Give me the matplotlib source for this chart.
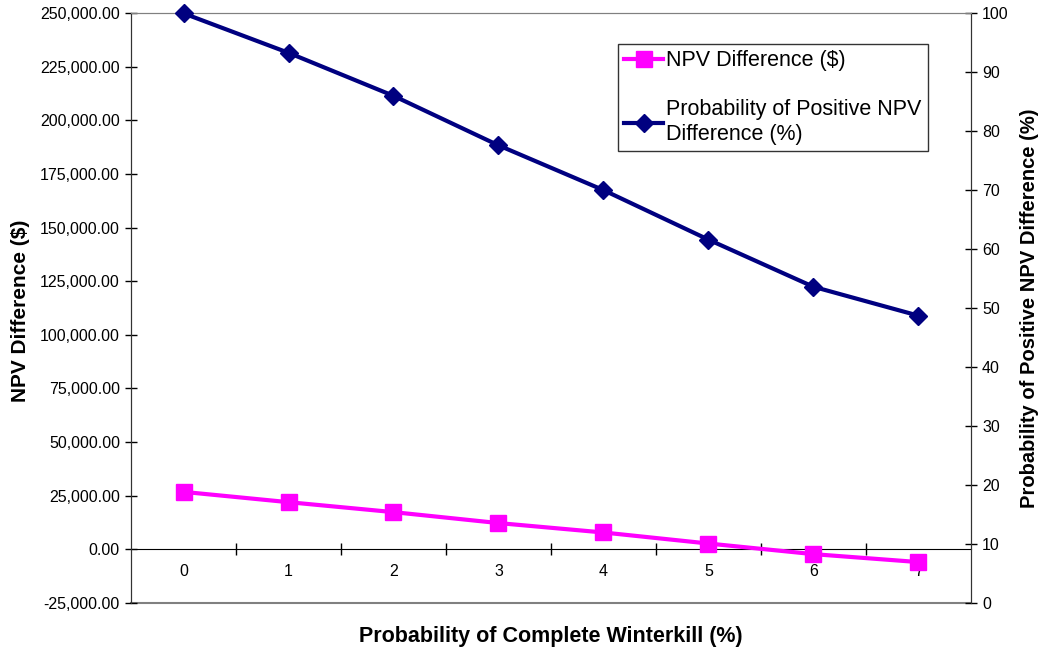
import numpy as np
import matplotlib
matplotlib.use('Agg')
import matplotlib.pyplot as plt
from matplotlib.ticker import FuncFormatter, FixedLocator

plt.rcParams['font.family'] = ['Liberation Sans', 'DejaVu Sans']

#Data: probability of complete winterkill (%) on the x axis
winterkill = [0, 1, 2, 3, 4, 5, 6, 7]
#NPV difference in dollars (left axis)
npv_diff = [26700, 21900, 17250, 12150, 7750, 2600, -2350, -6050]
#Probability of a positive NPV difference in % (right axis)
prob_pos = [100, 93.3, 86.0, 77.6, 70.0, 61.6, 53.6, 48.7]

npv_label = 'NPV Difference ($)'
prob_label = 'Probability of Positive NPV\nDifference (%)'

pink = '#FF00FF'
navy = '#000080'

fig = plt.figure(figsize=(10.44, 6.5), dpi=100)
ax = fig.add_axes([0.1255, 0.0728, 0.8045, 0.9067])
ax2 = ax.twinx()

x = np.arange(len(winterkill))

l1, = ax.plot(x, npv_diff, color=pink, lw=3, marker='s', ms=11,
              label=npv_label, zorder=3)
l2, = ax2.plot(x, prob_pos, color=navy, lw=3, marker='D', ms=9,
               label=prob_label, zorder=3, clip_on=False)

#Left axis
ax.set_xlim(-0.5, 7.5)
ax.set_ylim(-25000, 250000)
ax.set_yticks(np.arange(-25000, 250001, 25000))
ax.yaxis.set_major_formatter(FuncFormatter(lambda v, p: '{:,.2f}'.format(v)))
ax.tick_params(axis='y', direction='inout', length=8, width=1, labelsize=11.5, pad=4)

#Right axis
ax2.set_ylim(0, 100)
ax2.set_yticks(np.arange(0, 101, 10))
ax2.tick_params(axis='y', direction='inout', length=8, width=1, labelsize=11.5, pad=4)

#Category axis sits on the zero line
ax.spines['bottom'].set_position(('data', 0))
ax.set_xticks(x)
ax.set_xticklabels([str(w) for w in winterkill])
ax.xaxis.set_minor_locator(FixedLocator(np.arange(0.5, 7, 1)))
ax.tick_params(axis='x', which='major', length=0, labelsize=11.5, pad=11)
ax.tick_params(axis='x', which='minor', direction='inout', length=8, width=1)

for a in (ax, ax2):
    a.spines['top'].set_color('#808080')
    a.spines['left'].set_color('#333333')
    a.spines['right'].set_color('#333333')
ax2.spines['bottom'].set_visible(False)
ax.spines['bottom'].set_color('black')
#Bottom frame of the plot area
ax.axhline(-25000, color='#808080', lw=1.5, clip_on=False, zorder=1)

ax.set_xlabel('Probability of Complete Winterkill (%)', fontsize=15.5,
              fontweight='bold')
ax.xaxis.set_label_coords(0.5, -0.04)
ax.set_ylabel('NPV Difference ($)', fontsize=15, fontweight='bold')
ax.yaxis.set_label_coords(-0.12, 0.495)
ax2.set_ylabel('Probability of Positive NPV Difference (%)', fontsize=14.5,
               fontweight='bold')
ax2.yaxis.set_label_coords(1.058, 0.5)

leg = ax2.legend(handles=[l1, l2], loc='upper left',
                 bbox_to_anchor=(617.7 / 1044, 1 - 44 / 650),
                 bbox_transform=fig.transFigure, borderaxespad=0,
                 fontsize=15.5, frameon=True, fancybox=False, edgecolor='black',
                 handlelength=1.8, handletextpad=0.15, labelspacing=1.3,
                 borderpad=0.3)
leg.get_frame().set_linewidth(1)

fig.savefig('out.png', dpi=100)
